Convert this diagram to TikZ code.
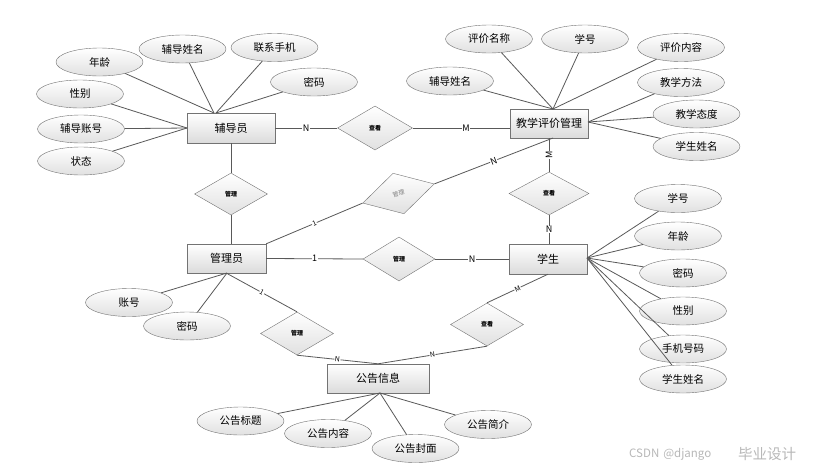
\documentclass[tikz,border=0pt]{standalone}
\usepackage{fontspec}
\setmainfont{Noto Sans CJK SC}
\usetikzlibrary{shapes.geometric,calc}
\begin{document}
\begin{tikzpicture}[x=1pt,y=-1pt,
 ent/.style={draw=black!55, rectangle, top color=white, bottom color=black!14, inner sep=0pt, font=\fontsize{11}{11}\selectfont},
 attr/.style={draw=black!55, ellipse, top color=white, bottom color=black!12, minimum width=87pt, minimum height=28pt, inner sep=0pt, font=\fontsize{10.5}{10.5}\selectfont},
 rel/.style={draw=black!55, diamond, top color=white, bottom color=black!12, minimum width=73pt, minimum height=43pt, inner sep=0pt, font=\fontsize{6}{6}\selectfont\bfseries},
 ln/.style={draw=black!65, line width=0.8pt},
 card/.style={fill=white, inner sep=0.5pt, font=\fontsize{9}{9}\selectfont},
 wm/.style={text=black!28, inner sep=0pt},
]
\fill[white] (0,0) rectangle (814,469);
\useasboundingbox (0,0) rectangle (814,469);

% entities
\node[ent, minimum width=88pt, minimum height=30pt] (fdy) at (231,128) {辅导员};
\node[ent, minimum width=78pt, minimum height=29pt] (jx) at (549,123.5) {教学评价管理};
\node[ent, minimum width=79pt, minimum height=29pt] (gly) at (226.5,258.5) {管理员};
\node[ent, minimum width=78pt, minimum height=30pt] (xs) at (548,259) {学生};
\node[ent, minimum width=102pt, minimum height=29pt] (gg) at (378,378.5) {公告信息};

% relationships
\node[rel, minimum width=75pt, minimum height=44pt] (r1) at (375,128) {查看};
\node[rel, minimum height=42pt] (r2) at (231,194) {管理};
\node[rel, minimum width=72pt, minimum height=44pt] (r3) at (399,259) {管理};
\node[rel, minimum width=80pt, minimum height=43pt] (r4) at (549,193.5) {查看};
\node[rel, rotate=15, minimum width=74pt, minimum height=42pt, text=black!50, font=\fontsize{6}{6}\selectfont] (r5) at (398.5,193.5) {管理};
\node[rel] (r6) at (297,333.5) {管理};
\node[rel] (r7) at (487,324.5) {查看};

% relationship connectors
\draw[ln] (fdy.east) -- node[card]{N} (r1.west);
\draw[ln] (r1.east) -- node[card, pos=0.55]{M} (r1.east -| jx.west);
\draw[ln] (fdy.south) -- (r2.north);
\draw[ln] (r2.south) -- (r2.south |- gly.north);
\draw[ln] (gly.east) -- node[card]{1} (r3.west);
\draw[ln] (r3.east) -- node[card]{N} (xs.west);
\coordinate (jxb) at (553,138);
\draw[ln] (gly.north east) -- node[card, sloped, font=\fontsize{7}{7}\selectfont]{1} (r5.west);
\draw[ln] (r5.east) -- node[card, sloped]{N} (jxb);
\draw[ln] (jx.south) -- node[card, rotate=90]{M} (r4.north);
\draw[ln] (r4.south) -- node[card]{N} (r4.south |- xs.north);
\draw[ln] (gly.south) -- node[card, sloped, font=\fontsize{7}{7}\selectfont]{1} (r6.north);
\draw[ln] (r6.south) -- node[card, sloped, font=\fontsize{7}{7}\selectfont]{N} (gg.north);
\draw[ln] (xs.south) -- node[card, sloped, font=\fontsize{7}{7}\selectfont]{M} (r7.north);
\draw[ln] (r7.south) -- node[card, sloped, font=\fontsize{7}{7}\selectfont]{N} (gg.north);

% attribute anchor points
\coordinate (fa) at (214,113);
\coordinate (fa2) at (216,113);
\coordinate (fl) at (187,128);
\coordinate (jt) at (553,109);
\coordinate (jr) at (588,122);
\coordinate (xr) at (587,258);
\coordinate (gb) at (227,273);
\coordinate (gbt) at (380,393);

% 辅导员 attributes
\node[attr] (a1) at (99.5,62) {年龄};
\node[attr] (a2) at (182.5,49) {辅导姓名};
\node[attr] (a3) at (274.5,47.5) {联系手机};
\node[attr] (a4) at (314,82) {密码};
\node[attr] (a5) at (80,94) {性别};
\node[attr] (a6) at (81,129) {辅导账号};
\node[attr] (a7) at (81,161) {状态};
\foreach \n in {a1,a2} \draw[ln] (\n) -- (fa);
\foreach \n in {a3,a4} \draw[ln] (\n) -- (fa2);
\foreach \n in {a5,a6,a7} \draw[ln] (\n) -- (fl);

% 教学评价管理 attributes
\node[attr] (b1) at (489,39) {评价名称};
\node[attr] (b2) at (585,39) {学号};
\node[attr] (b3) at (681,47.5) {评价内容};
\node[attr] (b4) at (450,81) {辅导姓名};
\node[attr] (b5) at (681,82.5) {教学方法};
\node[attr] (b6) at (696.5,114) {教学态度};
\node[attr] (b7) at (696.5,146.5) {学生姓名};
\foreach \n in {b1,b2,b3,b4} \draw[ln] (\n) -- (jt);
\foreach \n in {b5,b6,b7} \draw[ln] (\n) -- (jr);

% 学生 attributes
\node[attr] (c1) at (678,198.5) {学号};
\node[attr] (c2) at (678,236) {年龄};
\node[attr] (c3) at (683,273) {密码};
\node[attr] (c4) at (683,311) {性别};
\node[attr] (c5) at (683,349) {手机号码};
\node[attr] (c6) at (683,379) {学生姓名};
\foreach \n in {c1,c2,c3,c4,c5,c6} \draw[ln] (\n) -- (xr);

% 管理员 attributes
\node[attr] (d1) at (129,302.5) {账号};
\node[attr] (d2) at (187,326) {密码};
\foreach \n in {d1,d2} \draw[ln] (\n) -- (gb);

% 公告信息 attributes
\node[attr] (e1) at (240.5,421) {公告标题};
\node[attr] (e2) at (328,433.5) {公告内容};
\node[attr] (e3) at (415.5,448.5) {公告封面};
\node[attr] (e4) at (488,424.5) {公告简介};
\foreach \n in {e1,e2,e3,e4} \draw[ln] (\n) -- (gbt);

% watermark
\node[wm, anchor=west, font=\fontsize{11.5}{11.5}\selectfont] (w1) at (629,454) {CSDN\hspace{4pt}@django};
\node[wm, anchor=west, font=\fontsize{14.5}{14.5}\selectfont] (w2) at (738,454) {毕业设计};
\end{tikzpicture}
\end{document}
